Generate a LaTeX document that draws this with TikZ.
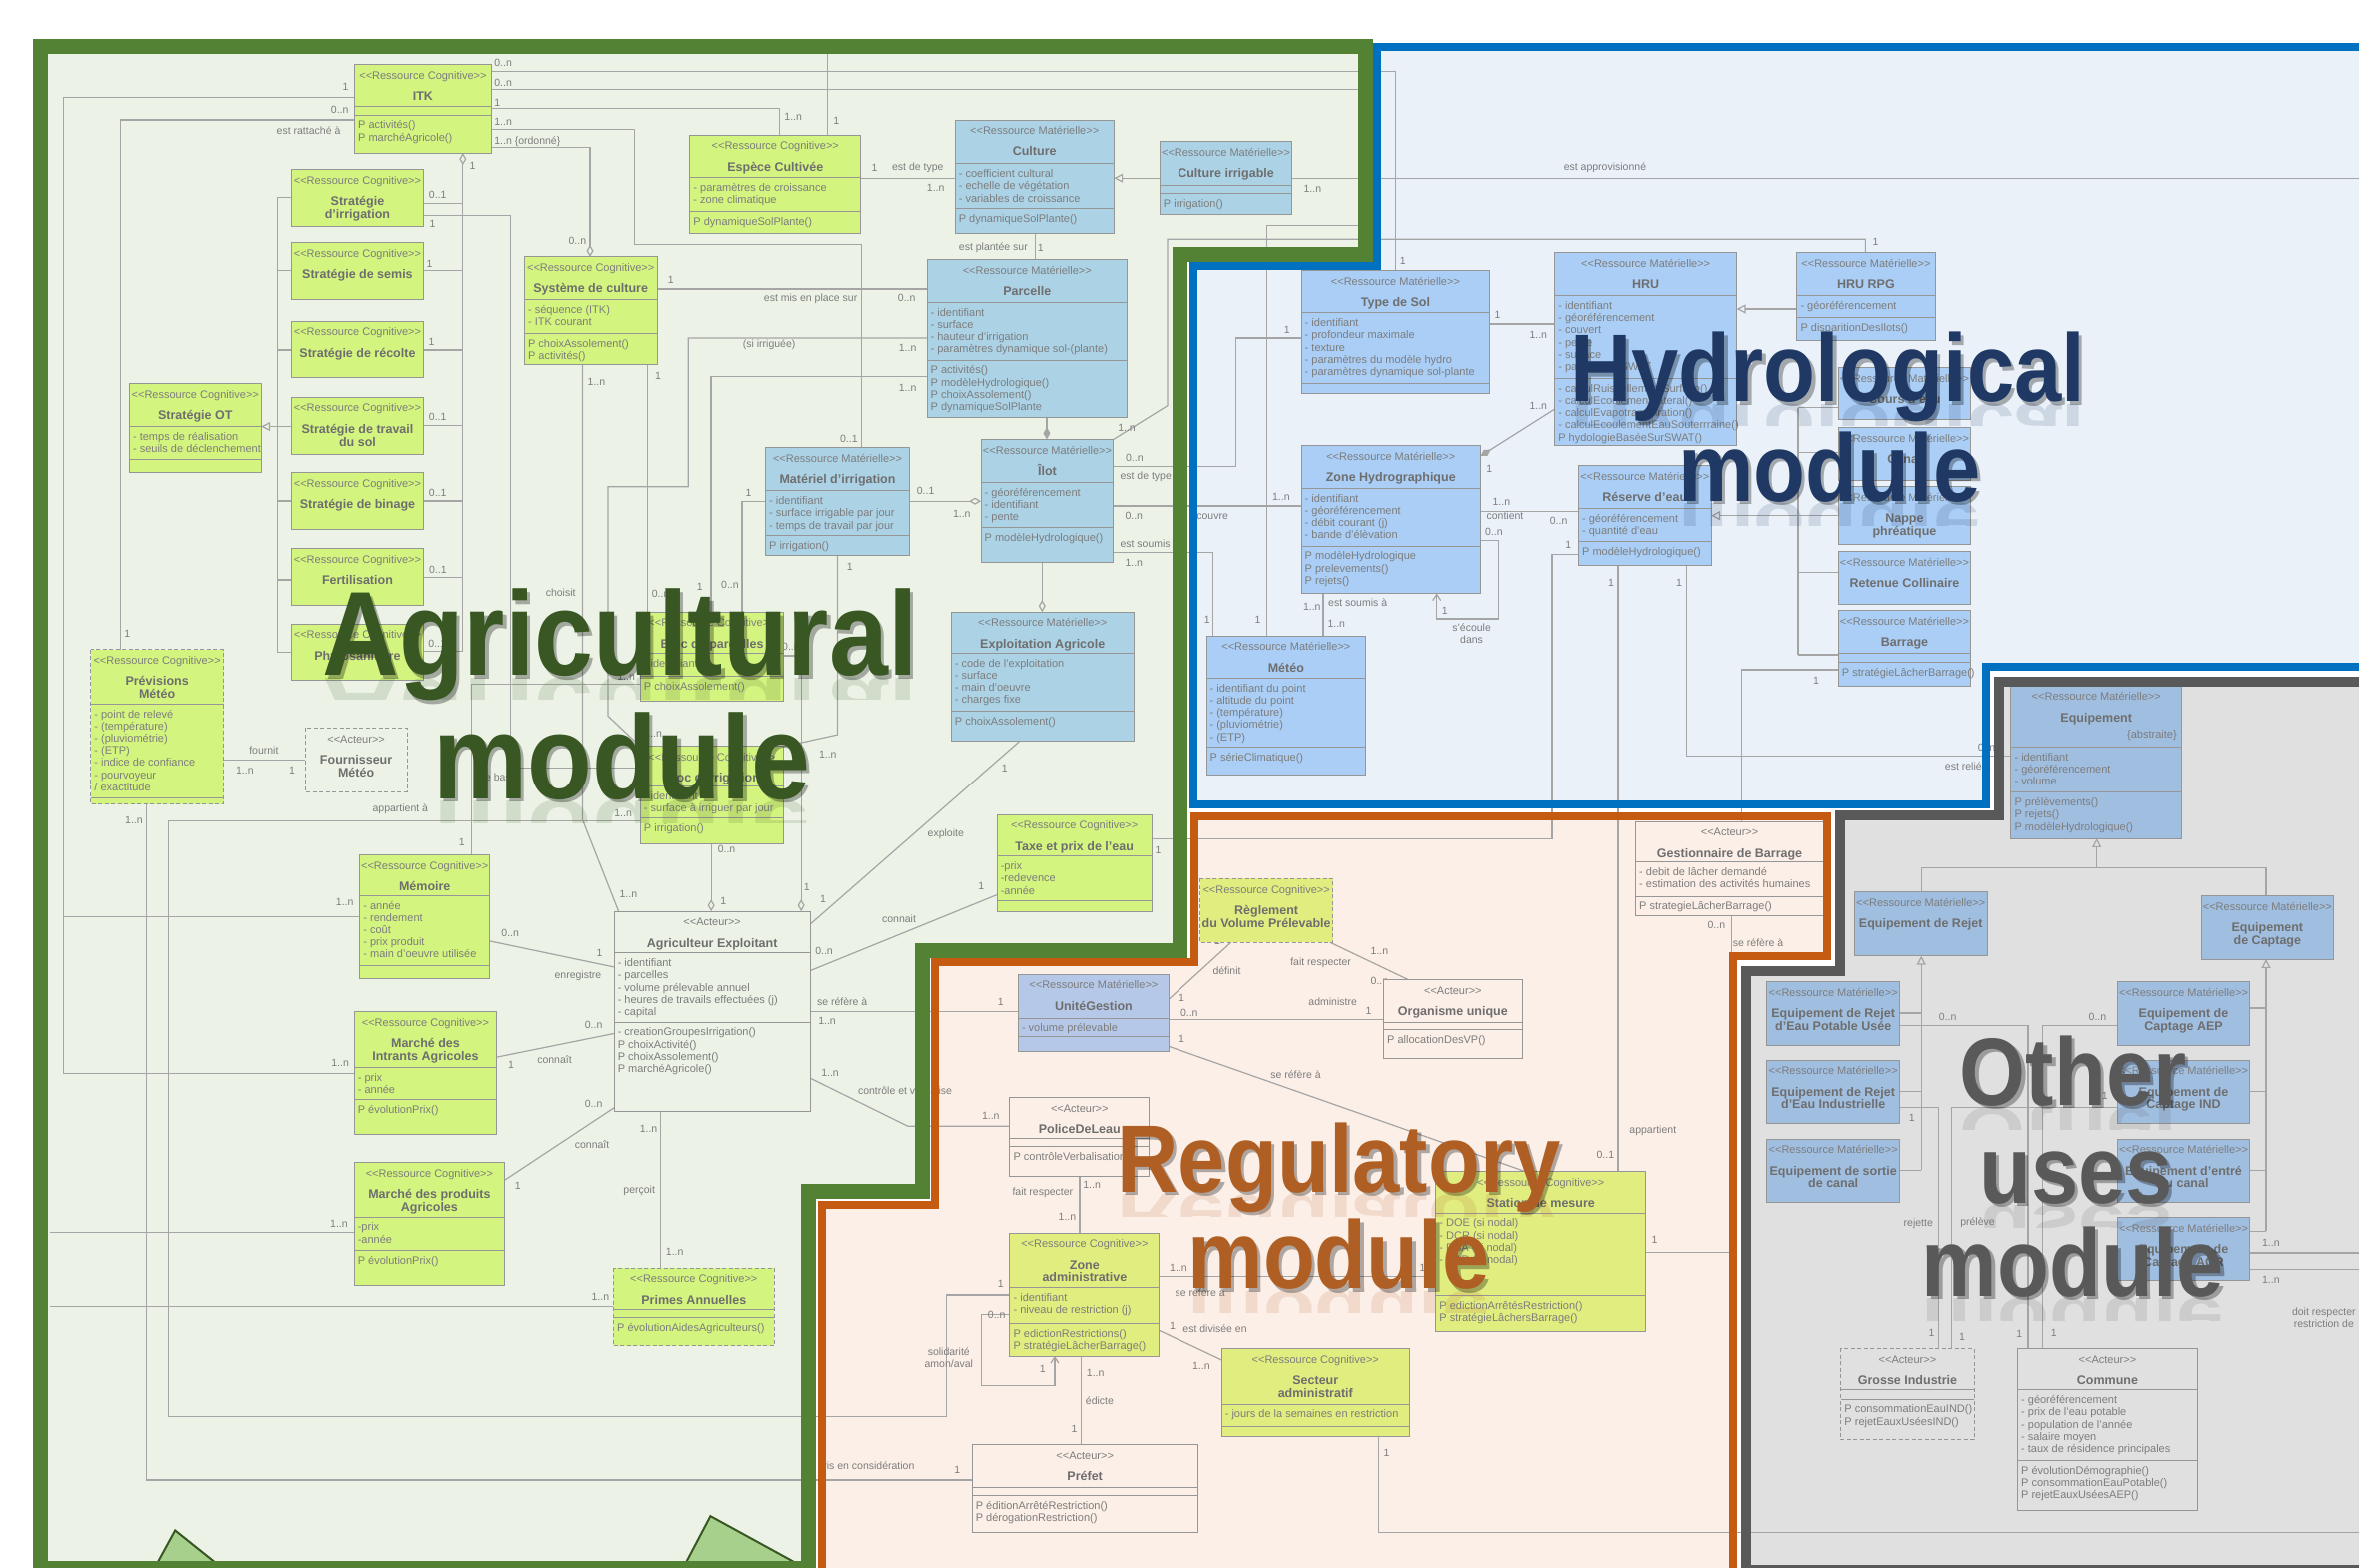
\documentclass[tikz,border=0pt]{standalone}
\usepackage{fontspec}
\setmainfont{Liberation Sans}
\usepackage{graphicx}
\usetikzlibrary{arrows.meta}
\pgfdeclarelayer{regions}
\pgfdeclarelayer{conns}
\pgfsetlayers{regions,conns,main}
\definecolor{agrbg}{RGB}{236,243,230}
\definecolor{agrbd}{RGB}{84,130,53}
\definecolor{hydbg}{RGB}{234,241,249}
\definecolor{hydbd}{RGB}{0,112,192}
\definecolor{regbg}{RGB}{252,239,231}
\definecolor{regbd}{RGB}{197,90,17}
\definecolor{othbg}{RGB}{224,224,224}
\definecolor{othbd}{RGB}{89,89,89}
\definecolor{cogf}{RGB}{212,244,128}
\definecolor{regcogf}{RGB}{226,237,128}
\definecolor{matf}{RGB}{172,210,230}
\definecolor{hydf}{RGB}{170,206,245}
\definecolor{othf}{RGB}{160,190,224}
\definecolor{ugf}{RGB}{182,200,232}
\definecolor{txt}{RGB}{125,125,125}
\definecolor{ttl}{RGB}{110,110,110}
\definecolor{lnc}{RGB}{165,165,165}
\definecolor{boxbd}{RGB}{150,150,150}
\definecolor{agrtxt}{RGB}{56,87,35}
\definecolor{hydtxt}{RGB}{31,56,100}
\definecolor{regtxt}{RGB}{175,95,35}
\definecolor{othtxt}{RGB}{89,89,89}
\definecolor{trif}{RGB}{168,208,141}
\tikzset{
 stfont/.style={font=\fontsize{11}{13}\selectfont, text=txt, inner sep=0pt},
 ttlfont/.style={font=\fontsize{12.5}{12.8}\selectfont\bfseries, text=ttl},
 attrfont/.style={font=\fontsize{11}{12.2}\selectfont, text=txt},
 lbl/.style={font=\fontsize{10.5}{12}\selectfont, text=txt, inner sep=0.5pt},
 conn/.style={draw=lnc, line width=1.2pt},
 gen/.style={-{Triangle[open,length=9pt,width=9pt]}},
 agg/.style={-{Diamond[open,length=12pt,width=7pt]}},
 comp/.style={-{Diamond[length=12pt,width=7pt]}},
 nav/.style={-{Straight Barb[length=6pt,width=8pt]}},
 region/.style={line join=miter},
}
\pgfkeys{/cls/.cd,
  st/.store in=\clsST, f/.store in=\clsF, a/.store in=\clsA,
  b/.store in=\clsB, c/.store in=\clsC, d/.store in=\clsD}
\newcommand\cls[8][]{%
  \pgfkeys{/cls/.cd,st=Ressource Cognitive,f=cogf,a=38,b=0,c=0,d=0,#1}%
  \pgfmathsetmacro\clsH{\clsA+\clsB+\clsC}%
  \pgfmathsetmacro\clsXC{#3+#5/2}%
  \pgfmathsetmacro\clsYA{#4+\clsA}%
  \pgfmathsetmacro\clsYB{#4+\clsA+\clsB}%
  \pgfmathtruncatemacro\clsHB{\clsB>0.1}%
  \pgfmathtruncatemacro\clsHC{\clsC>0.1}%
  \node[fill=\clsF,inner sep=0pt,outer sep=0pt,anchor=north west,minimum width=#5*1.505pt,minimum height=\clsH*1.505pt] (#2) at (#3,#4) {};
  \ifnum\clsD=1 \draw[boxbd,line width=0.9pt,dash pattern=on 4pt off 2.5pt] (#2.north west) rectangle (#2.south east);%
  \else \draw[boxbd,line width=0.9pt] (#2.north west) rectangle (#2.south east);\fi
  \ifnum\clsHB=1 \draw[boxbd,line width=0.9pt] (#3,\clsYA) -- ++(#5,0);\fi
  \ifnum\clsHC=1 \draw[boxbd,line width=0.9pt] (#3,\clsYB) -- ++(#5,0);\fi
  \node[stfont,anchor=base] (#2-st) at (\clsXC,#4+9.8) {<{}<\clsST>{}>};
  \node[ttlfont,anchor=north,align=center,inner sep=0pt] (#2-t) at (\clsXC,#4+16.5) {\rule{0pt}{11pt}#6};
  \ifnum\clsHB=1 \node[attrfont,anchor=north west,align=left,inner sep=0pt] (#2-a) at (#3+2.3,\clsYA+2.1) {\rule{0pt}{10.5pt}#7};\fi
  \ifnum\clsHC=1 \node[attrfont,anchor=north west,align=left,inner sep=0pt] (#2-m) at (#3+2.3,\clsYB+2.1) {\rule{0pt}{10.5pt}#8};\fi
}
\newcounter{lbc}
\newcommand\lb[4][center]{\stepcounter{lbc}\node[lbl,anchor=#1,align=center] (lb\arabic{lbc}) at (#2,#3) {#4};}
\newcommand\biglbl[6]{%
  \begin{scope}
    \clip (#2-450,#3) rectangle (#2+450,#3+16);
    \node[anchor=base,inner sep=0pt,text=#5,opacity=0.14,font=\fontsize{#4}{#4}\selectfont\bfseries] (#1-r) at (#2,#3+1.5) {\scalebox{1}[-0.8]{#6}};
  \end{scope}
  \node[anchor=base,inner sep=0pt,text=black,opacity=0.3,font=\fontsize{#4}{#4}\selectfont\bfseries] (#1-s) at (#2+2.2,#3+2.2) {\scalebox{1}[1.13]{#6}};
  \node[anchor=base,inner sep=0pt,text=#5,font=\fontsize{#4}{#4}\selectfont\bfseries] (#1) at (#2,#3) {\scalebox{1}[1.13]{#6}};
}
\begin{document}
\begin{tikzpicture}[x=1.505pt,y=-1.505pt]
\useasboundingbox (0,0) rectangle (1568,1042);
\begin{pgfonlayer}{regions}
\fill[white] (0,0) rectangle (1568,1042);
\fill[agrbg] (27,31) -- (908,31) -- (908,169) -- (784,169) -- (784,632) -- (613,632) -- (613,792) -- (537,792) -- (537,1043) -- (27,1043) -- cycle;
\fill[hydbg] (915.5,31) -- (1580,31) -- (1580,443) -- (1320,443) -- (1320,535) -- (793,535) -- (793,177) -- (915.5,177) -- cycle;
\fill[regbg] (794,543) -- (1214.5,543) -- (1214.5,636) -- (1152,636) -- (1152,1046) -- (546,1046) -- (546,801) -- (621.5,801) -- (621.5,640) -- (794,640) -- cycle;
\fill[othbg] (1329,453) -- (1580,453) -- (1580,1044) -- (1161,1044) -- (1161,645.5) -- (1223,645.5) -- (1223,542) -- (1329,542) -- cycle;
\filldraw[fill=trif,draw=agrtxt,line width=2pt] (100.8,1046) -- (116.4,1017.5) -- (152,1046) -- cycle;
\filldraw[fill=trif,draw=agrtxt,line width=2pt] (452,1046) -- (472,1008) -- (545,1048) -- cycle;
\end{pgfonlayer}

% ================= classes =================
% Agricultural
\cls[a=28,b=5.7,c=25.3]{itk}{235.5}{42.7}{91}{ITK}{}{P activités()\\P marchéAgricole()}
\cls[a=38]{sirr}{193.6}{112.7}{87.8}{Stratégie\\d'irrigation}{}{}
\cls[a=38.2]{ssem}{193.6}{161}{87.8}{Stratégie de semis}{}{}
\cls[a=37.6]{srec}{193.6}{213.4}{87.8}{Stratégie de récolte}{}{}
\cls[a=38]{strav}{193.6}{263.9}{87.8}{Stratégie de travail\\du sol}{}{}
\cls[a=37.7]{sbin}{193.6}{313.8}{87.8}{Stratégie de binage}{}{}
\cls[a=37.7]{sfert}{193.6}{364.6}{87.8}{Fertilisation}{}{}
\cls[a=37.7]{sphyto}{193.6}{414.7}{87.8}{Phytosanitaire}{}{}
\cls[a=28.7,b=22.1,c=8.5]{sot}{86}{254.7}{87.5}{Stratégie OT}{- temps de réalisation\\- seuils de déclenchement}{}
\cls[a=28.5,b=22.5,c=20.3]{sysc}{348.4}{170.7}{88.1}{Système de culture}{- séquence (ITK)\\- ITK courant}{P choixAssolement()\\P activités()}
\cls[a=28.1,b=22.5,c=14.6]{esp}{458.3}{89.8}{113.6}{Espèce Cultivée}{- paramètres de croissance\\- zone climatique}{P dynamiqueSolPlante()}
\cls[st=Ressource Matérielle,f=matf,a=29.2,b=29.7,c=16.4]{cult}{634.6}{79.7}{105.7}{Culture}{- coefficient cultural\\- echelle de végétation\\- variables de croissance}{P dynamiqueSolPlante()}
\cls[st=Ressource Matérielle,f=matf,a=28.6,b=5.6,c=14.1]{cirr}{770.9}{94.3}{88.1}{Culture irrigable}{}{P irrigation()}
\cls[st=Ressource Matérielle,f=matf,a=28.5,b=38.2,c=38.2]{parc}{615.9}{172.5}{133.3}{Parcelle}{- identifiant\\- surface\\- hauteur d'irrigation\\- paramètres dynamique sol-(plante)}{P activités()\\P modèleHydrologique()\\P choixAssolement()\\P dynamiqueSolPlante}
\cls[st=Ressource Matérielle,f=matf,a=28.8,b=29.9,c=23.3]{ilot}{651.8}{291.9}{88.3}{Îlot}{- géoréférencement\\- identifiant\\- pente}{P modèleHydrologique()}
\cls[st=Ressource Matérielle,f=matf,a=28.6,b=29.8,c=12.9]{mirr}{508.6}{297.5}{95.7}{Matériel d'irrigation}{- identifiant\\- surface irrigable par jour\\- temps de travail par jour}{P irrigation()}
\cls[st=Ressource Matérielle,f=matf,a=27.5,b=38.7,c=20]{expl}{632}{406.7}{121.6}{Exploitation Agricole}{- code de l'exploitation\\- surface\\- main d'oeuvre\\- charges fixe}{P choixAssolement()}
\cls[a=27.7,b=29.9,c=7.3]{taxe}{662.5}{541.6}{103}{Taxe et prix de l'eau}{-prix\\-redevence\\-année}{}
\cls[a=27.5,b=15.5,c=16.1]{blocp}{425.4}{406.7}{95.4}{Bloc de parcelles}{- identifiant}{P choixAssolement()}
\cls[a=26.6,b=21,c=17.1]{bloci}{425.4}{496.2}{95.4}{Bloc d'irrigation}{- identifiant\\- surface à irriguer par jour}{P irrigation()}
\cls[st=Acteur,f=agrbg,a=27.7,b=46,c=59.3]{agri}{408}{606}{130.3}{Agriculteur Exploitant}{- identifiant\\- parcelles\\- volume prélevable annuel\\- heures de travails effectuées (j)\\- capital}{- creationGroupesIrrigation()\\P choixActivité()\\P choixAssolement()\\P marchéAgricole()}
\cls[d=1,a=36.2,b=62.9,c=3.8]{prev}{60.3}{431.7}{88.2}{Prévisions\\Météo}{- point de relevé\\- (température)\\- (pluviométrie)\\- (ETP)\\- indice de confiance\\- pourvoyeur\\/ exactitude}{}
\cls[st=Acteur,f=agrbg,d=1,a=42.3]{fourn}{202.7}{484}{67.8}{Fournisseur\\Météo}{}{}
\cls[a=27.2,b=46.5,c=8.5]{mem}{239}{568.3}{86.4}{Mémoire}{- année\\- rendement\\- coût\\- prix produit\\- main d'oeuvre utilisée}{}
\cls[a=36.8,b=21.7,c=23.3]{mint}{235.3}{672.9}{94.8}{Marché des\\Intrants Agricoles}{- prix\\- année}{P évolutionPrix()}
\cls[a=36.3,b=22.3,c=22.9]{mprod}{235.3}{773}{100}{Marché des produits\\Agricoles}{-prix\\-année}{P évolutionPrix()}
\cls[d=1,a=27.6,b=5.3,c=18.8]{primes}{407.6}{843.2}{106.7}{Primes Annuelles}{}{P évolutionAidesAgriculteurs()}
% Hydrological
\cls[st=Ressource Matérielle,f=hydf,a=28.1,b=46.7,c=6.7]{tsol}{865.1}{179.7}{125.4}{Type de Sol}{- identifiant\\- profondeur maximale\\- texture\\- paramètres du modèle hydro\\- paramètres dynamique sol-plante}{}
\cls[st=Ressource Matérielle,f=hydf,a=28.5,b=55,c=44.3]{hru}{1033.6}{167.9}{120.9}{HRU}{- identifiant\\- géoréférencement\\- couvert\\- pente\\- surface\\- paramètresSWAT}{- calculRuissellementSurface()\\- calculEcoulementLateral()\\- calculEvapotranspiration()\\- calculEcoulementEauSouterrraine()\\P hydologieBaséeSurSWAT()}
\cls[st=Ressource Matérielle,f=hydf,a=28.5,b=14.4,c=15.1]{hrurpg}{1194.5}{167.9}{91.8}{HRU RPG}{- géoréférencement}{P disparitionDesIlots()}
\cls[st=Ressource Matérielle,f=hydf,a=34.6]{cours}{1222}{244}{88}{Cours d'eau}{}{}
\cls[st=Ressource Matérielle,f=hydf,a=35.1]{canal}{1222}{283.9}{88}{Canal}{}{}
\cls[st=Ressource Matérielle,f=hydf,a=38.3]{nappe}{1222}{323.4}{88}{Nappe\\phréatique}{}{}
\cls[st=Ressource Matérielle,f=hydf,a=34.8]{retenue}{1222}{366.5}{88}{Retenue Collinaire}{}{}
\cls[st=Ressource Matérielle,f=hydf,a=28.2,b=6,c=15.7]{barrage}{1222}{405.9}{88}{Barrage}{}{P stratégieLâcherBarrage()}
\cls[st=Ressource Matérielle,f=hydf,a=28.4,b=22.1,c=15.5]{reserve}{1049.4}{309.4}{88.1}{Réserve d'eau}{- géoréférencement\\- quantité d'eau}{P modèleHydrologique()}
\cls[st=Ressource Matérielle,f=hydf,a=28.3,b=38.3,c=31.5]{zhyd}{865.1}{296.2}{119.2}{Zone Hydrographique}{- identifiant\\- géoréférencement\\- débit courant (j)\\- bande d'élèvation}{P modèleHydrologique\\P prelevements()\\P rejets()}
\cls[st=Ressource Matérielle,f=hydf,a=28.2,b=46,c=18.6]{meteo}{801.9}{422.6}{106.2}{Météo}{- identifiant du point\\- altitude du point\\- (température)\\- (pluviométrie)\\- (ETP)}{P sérieClimatique()}
% Other uses
\cls[st=Ressource Matérielle,f=othf,a=40.7,b=30.2,c=30.7]{equip}{1336.7}{455.8}{113.4}{Equipement}{- identifiant\\- géoréférencement\\- volume}{P prélèvements()\\P rejets()\\P modèleHydrologique()}
\cls[st=Ressource Matérielle,f=othf,a=42.5]{erejet}{1232.6}{593.1}{88.4}{Equipement de Rejet}{}{}
\cls[st=Ressource Matérielle,f=othf,a=42]{ecapt}{1463}{595.8}{88.2}{Equipement\\de Captage}{}{}
\cls[st=Ressource Matérielle,f=othf,a=42.3]{erejEP}{1174.6}{652.7}{88.1}{Equipement de Rejet\\d'Eau Potable Usée}{}{}
\cls[st=Ressource Matérielle,f=othf,a=42.3]{ecapAEP}{1407.5}{652.7}{87.8}{Equipement de\\Captage AEP}{}{}
\cls[st=Ressource Matérielle,f=othf,a=42.1]{erejIND}{1174.6}{705}{88.1}{Equipement de Rejet\\d'Eau Industrielle}{}{}
\cls[st=Ressource Matérielle,f=othf,a=42.1]{ecapIND}{1407.5}{705}{87.8}{Equipement de\\Captage IND}{}{}
\cls[st=Ressource Matérielle,f=othf,a=42.1]{esortie}{1174.6}{757.5}{88.1}{Equipement de sortie\\de canal}{}{}
\cls[st=Ressource Matérielle,f=othf,a=42.1]{eentree}{1407.5}{757.5}{87.8}{Equipement d'entré\\au canal}{}{}
\cls[st=Ressource Matérielle,f=othf,a=41.8]{ecapAGR}{1407.5}{809.8}{87.8}{Equipement de\\Captage AGR}{}{}
\cls[st=Acteur,f=othbg,d=1,a=27,b=6.6,c=27.1]{grosse}{1223.7}{896.6}{88.6}{Grosse Industrie}{}{P consommationEauIND()\\P rejetEauxUséesIND()}
\cls[st=Acteur,f=othbg,a=27.4,b=46.8,c=33.7]{commune}{1341.1}{896.6}{119.5}{Commune}{- géoréférencement\\- prix de l'eau potable\\- population de l'année\\- salaire moyen\\- taux de résidence principales}{P évolutionDémographie()\\P consommationEauPotable()\\P rejetEauxUséesAEP()}
% Regulatory
\cls[f=regcogf,d=1,a=42.3]{regl}{797.7}{584.3}{88.4}{Règlement\\du Volume Prélevable}{}{}
\cls[st=Ressource Matérielle,f=ugf,a=29.3,b=12.3,c=9.8]{ug}{676.6}{647.8}{100.4}{UnitéGestion}{- volume prélevable}{}
\cls[st=Acteur,f=regbg,a=28.4,b=4.8,c=19.5]{orga}{919.9}{651.3}{92.1}{Organisme unique}{}{P allocationDesVP()}
\cls[st=Acteur,f=regbg,a=27.1,b=22.7,c=12.7]{gest}{1087.3}{546.2}{125}{Gestionnaire de Barrage}{- debit de lâcher demandé\\- estimation des activités humaines}{P strategieLâcherBarrage()}
\cls[st=Acteur,f=regbg,a=27,b=5.5,c=19.6]{police}{671}{730.1}{92.8}{PoliceDeLeau}{}{P contrôleVerbalisation()}
\cls[f=regcogf,a=36.1,b=23.8,c=21.8]{zadm}{671}{819.9}{99.6}{Zone\\administrative}{- identifiant\\- niveau de restriction (j)}{P edictionRestrictions()\\P stratégieLâcherBarrage()}
\cls[f=regcogf,a=27.7,b=54.6,c=24.4]{station}{954.6}{778.9}{139.4}{Station de mesure}{- DOE (si nodal)\\- DCR (si nodal)\\- DSA (si nodal)\\- DAR (si nodal)}{P edictionArrêtésRestriction()\\P stratégieLâchersBarrage()}
\cls[f=regcogf,a=36.8,b=14.6,c=7.2]{secteur}{812}{896.7}{125.1}{Secteur\\administratif}{- jours de la semaines en restriction}{}
\cls[st=Acteur,f=regbg,a=28.3,b=5.5,c=24.4]{prefet}{645.9}{960.5}{150.2}{Préfet}{}{P éditionArrêtéRestriction()\\P dérogationRestriction()}
\node[stfont,anchor=base east] (equip-abs) at (1447,490.5) {\{abstraite\}};

% ================= connectors =================
\begin{pgfonlayer}{conns}
% Agricultural
\draw[conn] (itk.west |- 0,65) -- (42,65) -- (42,714) -- (mint.west |- 0,714);
\draw[conn] (42,609.4) -- (mem.west |- 0,609.4);
\draw[conn] (itk.west |- 0,79.7) -- (80.3,79.7) -- (80.3,0 |- prev.north);
\draw[conn] (97.3,0 |- prev.south) -- (97.3,984) -- (prefet.west |- 0,984);
\draw[conn] (bloci.west |- 0,546) -- (112,546) -- (112,942) -- (629,942) -- (629,861) -- (zadm.west |- 0,861);
\draw[conn] (prev.east |- 0,505.4) -- (fourn.west |- 0,505.4);
\draw[conn,agg] (307.5,433.1) -- (307.5,0 |- itk.south);
\foreach \n/\y in {sirr/135.4,ssem/179.7,srec/232.5,strav/282.5,sbin/332.9,sfert/383.7,sphyto/433.1}
  \draw[conn] (\n.east |- 0,\y) -- (307.5,\y);
\draw[conn] (184.2,131.4) -- (184.2,433.5);
\foreach \n/\y in {sirr/131.4,ssem/179.7,srec/232.5,strav/283.4,sbin/332.9,sfert/385.3,sphyto/433.5}
  \draw[conn] (\n.west |- 0,\y) -- (184.2,\y);
\draw[conn,gen] (184.2,283.4) -- (sot.east |- 0,283.4);
\draw[conn] (sirr.east |- 0,143) -- (339.3,143) -- (339.3,510.6) -- (bloci.west |- 0,510.6);
\draw[conn] (itk.east |- 0,47.6) -- (927.8,47.6) -- (927.8,0 |- tsol.north);
\draw[conn] (itk.east |- 0,59.5) -- (903,59.5) -- (903,150) -- (842,150) -- (842,0 |- meteo.north);
\draw[conn] (itk.east |- 0,72.3) -- (517.7,72.3) -- (517.7,0 |- esp.north);
\draw[conn] (549.8,0 |- esp.north) -- (549.8,36);
\draw[conn] (itk.east |- 0,86) -- (421.4,86) -- (421.4,162.6) -- (572.6,162.6) -- (572.6,0 |- mirr.north);
\draw[conn,agg] (itk.east |- 0,98.2) -- (392,98.2) -- (392,0 |- sysc.north);
\draw[conn] (sysc.east |- 0,192) -- (parc.west |- 0,192);
\draw[conn] (bloci.north west) -- (404,476) -- (404,323.4) -- (457.3,323.4) -- (457.3,224.6) -- (parc.west |- 0,224.6);
\draw[conn] (472.4,0 |- blocp.north) -- (472.4,250) -- (parc.west |- 0,250);
\draw[conn] (430,0 |- sysc.south) -- (430,0 |- blocp.north);
\draw[conn] (387,0 |- sysc.south) -- (387,545) -- (411,0 |- agri.north);
\draw[conn] (313,0 |- mem.north) -- (313,455) -- (blocp.west |- 0,455);
\draw[conn] (mirr.west |- 0,333) -- (493,333) -- (493,0 |- blocp.north);
\draw[conn,agg] (mirr.east |- 0,333) -- (ilot.west |- 0,333);
\draw[conn] (556.4,0 |- mirr.south) -- (556.4,488.4) -- (bloci.north east);
\draw[conn,agg] (blocp.east |- 0,435.9) -- (532.3,435.9) -- (532.3,0 |- agri.north);
\draw[conn,agg] (472.5,0 |- bloci.south) -- (472.5,0 |- agri.north);
\draw[conn,comp] (695.6,0 |- parc.south) -- (695.6,0 |- ilot.north);
\draw[conn] (687.8,0 |- cult.south) -- (687.8,0 |- parc.north);
\draw[conn] (esp.east |- 0,118.4) -- (cult.west |- 0,118.4);
\draw[conn,gen] (cirr.west |- 0,118.4) -- (cult.east |- 0,118.4);
\draw[conn] (cirr.east |- 0,118.4) -- (1580,118.4);
\draw[conn] (ilot.east |- 0,310) -- (821.7,310) -- (821.7,224.6) -- (tsol.west |- 0,224.6);
\draw[conn] (ilot.east |- 0,336.2) -- (zhyd.west |- 0,336.2);
\draw[conn] (ilot.east |- 0,367.3) -- (806.3,367.3) -- (806.3,0 |- meteo.north);
\draw[conn] (ilot.north east) -- (776,269.5) -- (776,159) -- (1240,159) -- (1240,0 |- hrurpg.north);
\draw[conn,agg] (692.5,0 |- ilot.south) -- (692.5,0 |- expl.north);
\draw[conn] (mem.east |- 0,625.8) -- (agri.west |- 0,643.1);
\draw[conn] (mint.east |- 0,703) -- (agri.west |- 0,687.3);
\draw[conn] (mprod.east |- 0,784.8) -- (agri.west |- 0,736.7);
\draw[conn] (438.9,0 |- agri.south) -- (438.9,0 |- primes.north);
\draw[conn] (33,819.6) -- (mprod.west |- 0,819.6);
\draw[conn] (33,868.9) -- (primes.west |- 0,868.9);
% Hydrological
\draw[conn,gen] (hrurpg.west |- 0,205.3) -- (hru.east |- 0,205.3);
\draw[conn] (tsol.east |- 0,215.2) -- (hru.west |- 0,215.2);
\draw[conn,comp] (hru.west |- 0,271.8) -- (zhyd.east |- 0,303);
\draw[conn] (zhyd.east |- 0,340) -- (reserve.west |- 0,340);
\draw[conn,nav] (zhyd.east |- 0,359.3) -- (996.2,359.3) -- (996.2,411.3) -- (955.2,411.3) -- (955.2,0 |- zhyd.south);
\draw[conn] (879.6,0 |- zhyd.south) -- (879.6,0 |- meteo.north);
\draw[conn] (1195.2,270.9) -- (1195.2,435.2);
\foreach \n/\y in {cours/270.9,canal/300.8,retenue/380.3,barrage/435.2}
  \draw[conn] (\n.west |- 0,\y) -- (1195.2,\y);
\draw[conn,gen] (nappe.west |- 0,342.6) -- (reserve.east |- 0,342.6);
\draw[conn] (taxe.east |- 0,557.6) -- (1031.8,557.6) -- (1031.8,368.4) -- (reserve.west |- 0,368.4);
\draw[conn] (1075.6,0 |- reserve.south) -- (1075.6,0 |- station.north);
\draw[conn] (1121.3,0 |- reserve.south) -- (1121.3,502.7) -- (equip.west |- 0,502.7);
\draw[conn] (barrage.west |- 0,445.2) -- (1157.8,445.2) -- (1157.8,0 |- gest.north);
% Other uses
\draw[conn] (1277.1,0 |- erejet.north) -- (1277.1,576.9) -- (1506.2,576.9) -- (1506.2,0 |- ecapt.north);
\draw[conn,gen] (1393.7,576.9) -- (1393.7,0 |- equip.south);
\draw[conn,gen] (1277.1,778.1) -- (1277.1,0 |- erejet.south);
\foreach \n/\y in {erejEP/673.7,erejIND/726,esortie/778.1}
  \draw[conn] (\n.east |- 0,\y) -- (1277.1,\y);
\draw[conn,gen] (1506.2,818.8) -- (1506.2,0 |- ecapt.south);
\foreach \n/\y in {ecapAEP/670.4,ecapIND/726,eentree/778.1,ecapAGR/818.8}
  \draw[conn] (\n.east |- 0,\y) -- (1506.2,\y);
\draw[conn] (erejEP.east |- 0,682.2) -- (1348.1,682.2) -- (1348.1,0 |- commune.north);
\draw[conn] (ecapAEP.west |- 0,682.2) -- (1357.9,682.2) -- (1357.9,0 |- commune.north);
\draw[conn] (erejIND.east |- 0,736.4) -- (1288.5,736.4) -- (1288.5,0 |- grosse.north);
\draw[conn] (ecapIND.west |- 0,736.4) -- (1297.4,736.4) -- (1297.4,0 |- grosse.north);
\draw[conn] (ecapAGR.east |- 0,833.2) -- (1580,833.2);
\draw[conn] (ecapAGR.east |- 0,844.3) -- (1580,844.3);
\draw[conn] (916.7,0 |- secteur.south) -- (916.7,1018.8) -- (1580,1018.8);
% Regulatory
\draw[conn] (agri.east |- 0,645.5) -- (taxe.west |- 0,595);
\draw[conn] (agri.east |- 0,614.6) -- (677.3,0 |- expl.south);
\draw[conn] (agri.east |- 0,672.5) -- (ug.west |- 0,672.5);
\draw[conn] (agri.east |- 0,717) -- (603.3,749) -- (police.west |- 0,749);
\draw[conn] (818.4,0 |- regl.south) -- (ug.east |- 0,664.4);
\draw[conn] (884.1,0 |- regl.south) -- (935.9,0 |- orga.north);
\draw[conn] (ug.east |- 0,678) -- (orga.west |- 0,678);
\draw[conn] (ug.east |- 0,695.9) -- (1013.5,0 |- station.north);
\draw[conn] (717.6,0 |- police.south) -- (717.6,0 |- zadm.north);
\draw[conn] (zadm.east |- 0,848.9) -- (station.west |- 0,848.9);
\draw[conn] (zadm.east |- 0,884.6) -- (secteur.west |- 0,904.2);
\draw[conn,nav] (zadm.west |- 0,874.2) -- (651.9,874.2) -- (651.9,921.4) -- (700.9,921.4) -- (700.9,0 |- zadm.south);
\draw[conn] (718.8,0 |- zadm.south) -- (718.8,0 |- prefet.north);
\draw[conn] (station.east |- 0,832.6) -- (1151,832.6) -- (1151,0 |- gest.south);

% ---------- labels ----------
\lb[east]{232}{58}{1}
\lb[east]{232}{73}{0..n}
\lb{205}{86.5}{est rattaché à}
\lb{84.5}{421}{1}
\lb{229}{600}{1..n}
\lb{226}{707}{1..n}
\lb[west]{328}{41.6}{0..n}
\lb[west]{328}{54.8}{0..n}
\lb[west]{328}{68.5}{1}
\lb[west]{328}{80.9}{1..n}
\lb[west]{328}{94.3}{1..n \{ordonné\}}
\lb{314}{110.5}{1}
\lb{290.8}{129.8}{0..1}
\lb{287.4}{148.9}{1}
\lb{285.4}{175.2}{1}
\lb{286.8}{227.3}{1}
\lb{290.8}{277}{0..1}
\lb{290.8}{327.2}{0..1}
\lb{290.9}{378.5}{0..1}
\lb{290.5}{428}{0..1}
\lb{383.6}{160}{0..n}
\lb{445.6}{186}{1}
\lb{538.6}{198.8}{est mis en place sur}
\lb{602.4}{198.1}{0..n}
\lb{511}{229}{(si irriguée)}
\lb{603}{231}{1..n}
\lb{603}{258}{1..n}
\lb{437.2}{249.8}{1}
\lb{396.3}{253.4}{1..n}
\lb{372.5}{393.6}{choisit}
\lb{417.5}{594.7}{1..n}
\lb{438.9}{394.3}{0..n}
\lb{465}{389.8}{1}
\lb{485}{388.7}{0..n}
\lb{434}{487.7}{1..n}
\lb{306.8}{560}{1}
\lb{416}{449.6}{1..n}
\lb{497.4}{327.8}{1}
\lb{615}{326.3}{0..1}
\lb{639}{341.6}{1..n}
\lb{564.6}{376.6}{1}
\lb{550}{501.3}{1..n}
\lb{525.5}{429.7}{0..n}
\lb{536}{589.7}{1}
\lb{482.7}{564.8}{0..n}
\lb{480.6}{599.1}{1}
\lb{660}{164.4}{est plantée sur}
\lb{691.5}{164.4}{1}
\lb{581}{111.6}{1}
\lb{609.8}{111.6}{est de type}
\lb{621.7}{124.7}{1..n}
\lb{872.6}{125.8}{1..n}
\lb{1067}{111.6}{est approvisionné}
\lb{527}{77.5}{1..n}
\lb{555.6}{80.4}{1}
\lb{564}{291.7}{0..1}
\lb{932.6}{173}{1}
\lb{836.2}{412}{1}
\lb{754}{304.3}{0..n}
\lb[west]{744}{316.7}{est de type}
\lb{855.6}{219}{1}
\lb{753.6}{342.9}{0..n}
\lb{806}{343.3}{couvre}
\lb{851.7}{330}{1..n}
\lb{753.6}{374.3}{1..n}
\lb[west]{744}{361.5}{est soumis à}
\lb{802.5}{412}{1}
\lb{748.8}{284}{1..n}
\lb{1246.8}{160.4}{1}
\lb{266}{538}{appartient à}
\lb{414}{540.5}{1..n}
\lb{665}{853.8}{1}
\lb{89}{545.4}{1..n}
\lb[east]{608}{975}{pris en considération}
\lb{636}{977.4}{1}
\lb{175.3}{498.7}{fournit}
\lb{162.7}{512.2}{1..n}
\lb{194}{512.2}{1}
\lb{331}{516.5}{se base}
\lb{339}{620.6}{0..n}
\lb{398.3}{633.7}{1}
\lb{384}{648.7}{enregistre}
\lb{394.4}{681.8}{0..n}
\lb{339.5}{708.5}{1}
\lb{368.4}{704.7}{connaît}
\lb{394.4}{734.2}{0..n}
\lb{344}{788.4}{1}
\lb{393.4}{761.2}{connaît}
\lb{430.9}{750.4}{1..n}
\lb{424.7}{792}{perçoit}
\lb{448.3}{832.4}{1..n}
\lb{225.2}{813.6}{1..n}
\lb{398.9}{862.4}{1..n}
\lb{667.6}{511}{1}
\lb{628.4}{554.4}{exploite}
\lb{546.8}{598}{1}
% regulatory labels
\lb{547.5}{632.5}{0..n}
\lb{597.3}{611.3}{connait}
\lb{651.9}{589.5}{1}
\lb{559.5}{666}{se réfère à}
\lb{549.5}{678.7}{1..n}
\lb{665}{666}{1}
\lb{551.5}{713.2}{1..n}
\lb{601.3}{725.5}{contrôle et verbalise}
\lb{658.3}{742.1}{1..n}
\lb{809.2}{626}{1}
\lb{815.6}{645.5}{définit}
\lb{785.3}{663.4}{1}
\lb{790.5}{673.7}{0..n}
\lb{917.2}{632.5}{1..n}
\lb{878.1}{640.6}{fait respecter}
\lb{917.2}{652.6}{0..n}
\lb{886.1}{666}{administre}
\lb{910}{672.2}{1}
\lb{785.3}{691}{1}
\lb{861.4}{714.5}{se réfère à}
\lb{725.6}{787.7}{1..n}
\lb{692.9}{792.9}{fait respecter}
\lb{709.2}{809.2}{1..n}
\lb{783.3}{843}{1..n}
\lb{797.7}{859.6}{se réfère à}
\lb{945.8}{843}{1}
\lb{779.3}{881.4}{1}
\lb{807.6}{883.7}{est divisée en}
\lb{798.5}{908.1}{1..n}
\lb{662.2}{874.2}{0..n}
\lb{692.9}{910}{1}
\lb{630.4}{902.6}{solidarité\\amon/aval}
\lb{728}{913}{1..n}
\lb{730.8}{931.2}{édicte}
\lb{714}{949.7}{1}
\lb{921.9}{966}{1}
\lb{1100}{824.5}{1}
\lb{1141}{615}{0..n}
\lb{1168.7}{626.8}{se réfère à}
\lb{1098.8}{751.9}{appartient}
\lb{1067.3}{768.2}{0..1}
\lb{1071}{387}{1}
\lb{1116.3}{387}{1}
\lb{769.8}{565.1}{1}
\lb{1042.7}{362.2}{1}
\lb{1207.2}{452.2}{1}
\lb{1308}{509.4}{est relié à}
\lb{1320.5}{497.2}{0..n}
% hydro labels
\lb{995.6}{208.9}{1}
\lb{1022.7}{222.4}{1..n}
\lb{990.2}{311.7}{1}
\lb{1022.7}{269.5}{1..n}
\lb{998.2}{333.4}{1..n}
\lb{1000.6}{342.7}{contient}
\lb{1036.2}{346.2}{0..n}
\lb{993.2}{353.3}{0..n}
\lb{960.6}{405.8}{1}
\lb{978.4}{420.9}{s'écoule\\dans}
\lb{872.2}{403.1}{1..n}
\lb{902.7}{400.3}{est soumis à}
\lb{888.5}{414.7}{1..n}
% other labels
\lb{1294.7}{676.6}{0..n}
\lb{1394.2}{676.6}{0..n}
\lb{1270.9}{743.1}{1}
\lb{1399.1}{728.7}{1}
\lb{1275.2}{814}{rejette}
\lb{1314.5}{812.9}{prélève}
\lb{1283.9}{886}{1}
\lb{1304.2}{888.6}{1}
\lb{1342.2}{887}{1}
\lb{1365.2}{886}{1}
\lb{1509.4}{826.6}{1..n}
\lb{1509.4}{851}{1..n}
\lb[north west]{1523}{869}{doit respecter\\restriction de}
\end{pgfonlayer}

% ================= region borders =================
\draw[agrbd,line width=15pt,region] (27,31) -- (908,31) -- (908,169) -- (784,169) -- (784,632) -- (613,632) -- (613,792) -- (537,792) -- (537,1043) -- (27,1043) -- cycle;
\draw[hydbd,line width=8pt,region] (915.5,31) -- (1580,31) -- (1580,443) -- (1320,443) -- (1320,535) -- (793,535) -- (793,177) -- (915.5,177) -- cycle;
\draw[regbd,line width=8pt,region] (794,543) -- (1214.5,543) -- (1214.5,636) -- (1152,636) -- (1152,1046) -- (546,1046) -- (546,801) -- (621.5,801) -- (621.5,640) -- (794,640) -- cycle;
\draw[othbd,line width=10pt,region] (1329,453) -- (1580,453) -- (1580,1044) -- (1161,1044) -- (1161,645.5) -- (1223,645.5) -- (1223,542) -- (1329,542) -- cycle;

% ================= big module labels =================
\biglbl{lagr1}{412}{449}{106}{agrtxt}{Agricultural}
\biglbl{lagr2}{413}{531}{106}{agrtxt}{module}
\biglbl{lhyd1}{1215}{267}{85}{hydtxt}{Hydrological}
\biglbl{lhyd2}{1216}{333}{85}{hydtxt}{module}
\biglbl{lreg1}{890}{793}{85}{regtxt}{Regulatory}
\biglbl{lreg2}{890}{857}{85}{regtxt}{module}
\biglbl{loth1}{1378}{735}{85}{othtxt}{Other}
\biglbl{loth2}{1380}{800}{85}{othtxt}{uses}
\biglbl{loth3}{1378}{862}{85}{othtxt}{module}
\end{tikzpicture}
\end{document}
